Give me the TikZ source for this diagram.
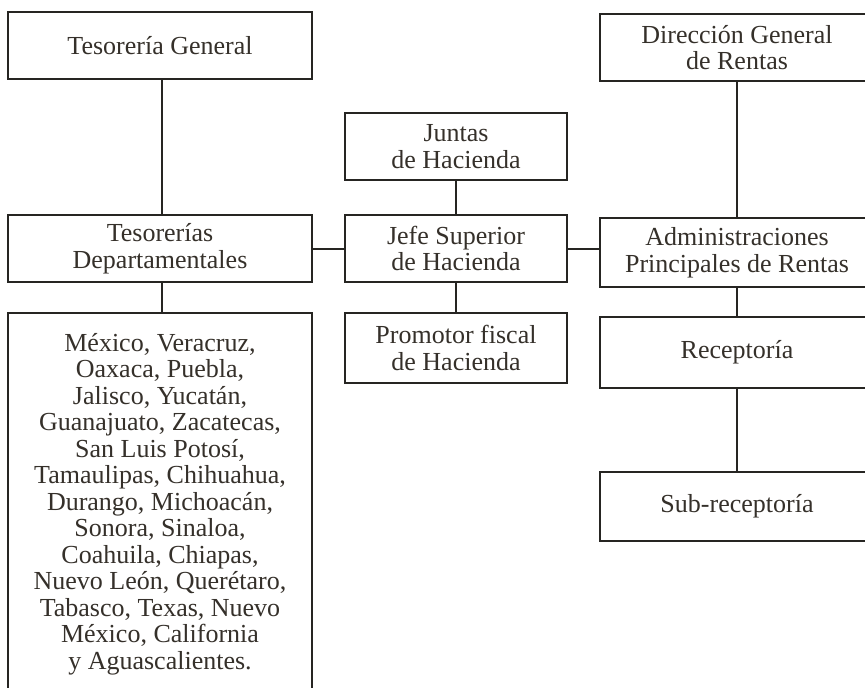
\documentclass[tikz,border=0pt]{standalone}
\usepackage{fontspec}
\setmainfont{Liberation Serif}
\definecolor{linec}{HTML}{262522}
\definecolor{textc}{HTML}{35302A}
\tikzset{
  box/.style={draw=linec, line width=2pt, fill=white, align=center, inner sep=0pt,
    text=textc, font=\fontsize{26}{26.5}\selectfont},
  conn/.style={draw=linec, line width=2pt}
}
\begin{document}
\begin{tikzpicture}[x=1pt,y=-1pt]
\useasboundingbox (0,0) rectangle (865,688);
% left column
\node[box, minimum width=304pt, minimum height=67pt] (tg) at (160,45.5) {Tesorería General};
\node[box, minimum width=304pt, minimum height=67pt] (td) at (160,248.5) {Tesorerías\\Departamentales};
\node[box, minimum width=304pt, minimum height=400pt, anchor=north] (lst) at (160,312) {};
\node[anchor=north, align=center, inner sep=0pt, text=textc,
  font=\fontsize{26}{26.5}\selectfont] (lsttext) at ([yshift=-21pt]lst.north)
  {México, Veracruz,\\Oaxaca, Puebla,\\Jalisco, Yucatán,\\Guanajuato, Zacatecas,\\San Luis Potosí,\\Tamaulipas, Chihuahua,\\Durango, Michoacán,\\Sonora, Sinaloa,\\Coahuila, Chiapas,\\Nuevo León, Querétaro,\\Tabasco, Texas, Nuevo\\México, California\\y Aguascalientes.};
% middle column
\node[box, minimum width=222pt, minimum height=67pt] (ju) at (456,146.5) {Juntas\\de Hacienda};
\node[box, minimum width=222pt, minimum height=67pt] (je) at (456,248.5) {Jefe Superior\\de Hacienda};
\node[box, minimum width=222pt, minimum height=70pt] (pr) at (456,348) {Promotor fiscal\\de Hacienda};
% right column
\node[box, minimum width=274pt, minimum height=67pt] (dg) at (737,47.5) {Dirección General\\de Rentas};
\node[box, minimum width=274pt, minimum height=69pt] (ap) at (737,252.5) {Administraciones\\Principales de Rentas};
\node[box, minimum width=274pt, minimum height=71pt] (re) at (737,352.5) {Receptoría};
\node[box, minimum width=274pt, minimum height=69pt] (sr) at (737,506.5) {Sub-receptoría};
% connectors
\draw[conn] ([xshift=2pt]tg.south) -- ([xshift=2pt]td.north);
\draw[conn] ([xshift=2pt]td.south) -- ([xshift=2pt]lst.north);
\draw[conn] (td.east) -- (je.west);
\draw[conn] (je.east) -- (je.east -| ap.west);
\draw[conn] (ju.south) -- (je.north);
\draw[conn] (je.south) -- (pr.north);
\draw[conn] (dg.south) -- (ap.north);
\draw[conn] (ap.south) -- (re.north);
\draw[conn] (re.south) -- (sr.north);
\end{tikzpicture}
\end{document}
